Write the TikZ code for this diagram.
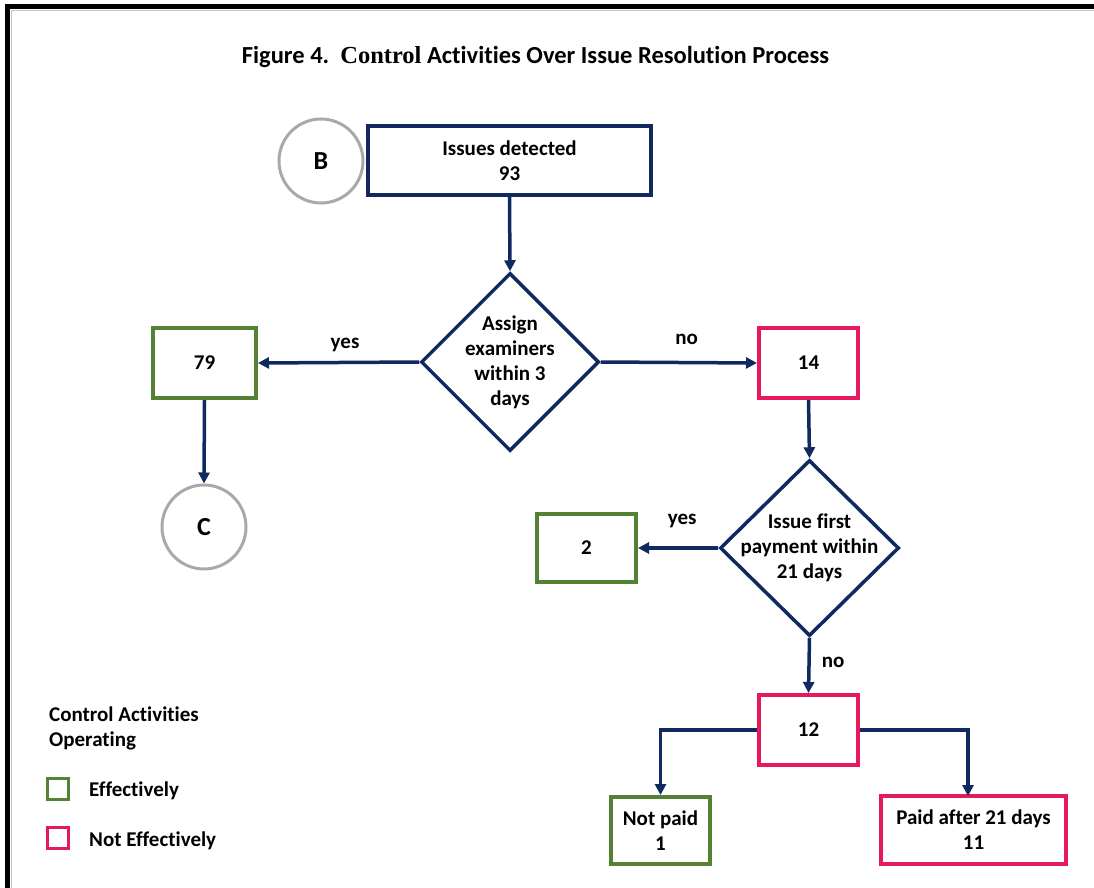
\documentclass[tikz,border=0pt]{standalone}
\usepackage{fontspec}
\setmainfont{Carlito}[Ligatures=NoCommon]
\newfontfamily\titleserif{Liberation Serif}
\usetikzlibrary{arrows.meta,shapes.geometric}
\definecolor{navy}{HTML}{10295F}
\definecolor{okgreen}{HTML}{548235}
\definecolor{badpink}{HTML}{E5195B}
\definecolor{ringgray}{HTML}{A9A9A9}
\tikzset{
  txt/.style={font=\fontsize{21}{25}\selectfont\bfseries, align=center, text=black},
  navybox/.style={draw=navy, line width=4pt, inner sep=0pt, txt},
  goodbox/.style={draw=okgreen, line width=4pt, inner sep=0pt, txt},
  badbox/.style={draw=badpink, line width=4pt, inner sep=0pt, txt},
  decision/.style={draw=navy, line width=3.5pt, diamond, inner sep=0pt},
  ring/.style={draw=ringgray, line width=3pt, circle, inner sep=0pt, minimum size=84pt, txt, font=\fontsize{26}{30}\selectfont\bfseries},
  flow/.style={draw=navy, line width=3.5pt, -{Triangle[length=11pt,width=11pt]}},
  lbl/.style={txt, inner sep=0pt},
  legendbox/.style={draw, line width=3pt, minimum size=21pt, inner sep=0pt}
}
\begin{document}
\begin{tikzpicture}[x=1pt,y=-1pt]
\useasboundingbox (0,0) rectangle (1094,888);
\fill[white] (0,0) rectangle (1094,888);
% page frame (top and left rules)
\draw[ringgray!70, line width=1pt] (11,888) -- (11,10.5) -- (1094,10.5);
\draw[black, line width=4.5pt] (7.5,888) -- (7.5,6.5) -- (1094,6.5);

% title
\node[lbl, font=\fontsize{24.5}{28}\selectfont\bfseries] (title) at (535.5,57)
  {Figure 4.\ \ {\titleserif\bfseries Control} Activities Over Issue Resolution Process};

% flow nodes
\node[ring] (B) at (321,161) {B};
\node[navybox, minimum width=283pt, minimum height=69pt] (iss) at (509.5,160.5) {Issues detected\\93};
\node[decision, minimum width=178pt, minimum height=178pt] (d1) at (510,362) {};
\node[lbl] (d1t) at (d1.center) {Assign\\examiners\\within 3\\days};
\node[goodbox, minimum width=103pt, minimum height=70pt] (b79) at (204.5,363) {79};
\node[badbox, minimum width=99pt, minimum height=70pt] (b14) at (808.5,363) {14};
\node[ring] (C) at (204,527) {C};
\node[decision, minimum width=179pt, minimum height=176pt] (d2) at (809.5,548) {};
\node[lbl] (d2t) at (d2.center) {Issue first\\payment within\\21 days};
\node[goodbox, minimum width=99pt, minimum height=68pt] (b2) at (586.5,548) {2};
\node[badbox, minimum width=99pt, minimum height=70pt] (b12) at (808.5,730) {12};
\node[goodbox, minimum width=99pt, minimum height=67pt] (np) at (660.5,830.5) {Not paid\\1};
\node[badbox, minimum width=185pt, minimum height=68pt] (pa) at (973.5,830) {Paid after 21 days\\11};
\coordinate (paIn) at (968,796);

% connectors
\draw[flow] (iss.south) -- (d1.north);
\draw[flow] (d1.west) -- (b79.east) node[lbl, pos=0.46, above=9pt] (yes1) {yes};
\draw[flow] (d1.east) -- (b14.west) node[lbl, pos=0.55, above=16pt] (no1) {no};
\draw[flow] (b79.south) -- (C.north);
\draw[flow] (b14.south) -- (d2.north);
\draw[flow] (d2.west) -- (b2.east) node[lbl, pos=0.45, above=18pt] (yes2) {yes};
\draw[flow] (d2.south) -- (b12.north) node[lbl, pos=0.45, right=11pt] (no2) {no};
\draw[flow] (b12.west) -| (np.north);
\draw[flow] (b12.east) -| (paIn);

% legend
\node[lbl, align=left, anchor=west] (leghead) at (49,728) {Control Activities\\Operating};
\node[legendbox, draw=okgreen] (lg) at (57.5,789) {};
\node[lbl, anchor=west] (lgt) at (89,791) {Effectively};
\node[legendbox, draw=badpink] (lp) at (57.5,838) {};
\node[lbl, anchor=west] (lpt) at (89,841) {Not Effectively};
\end{tikzpicture}
\end{document}
